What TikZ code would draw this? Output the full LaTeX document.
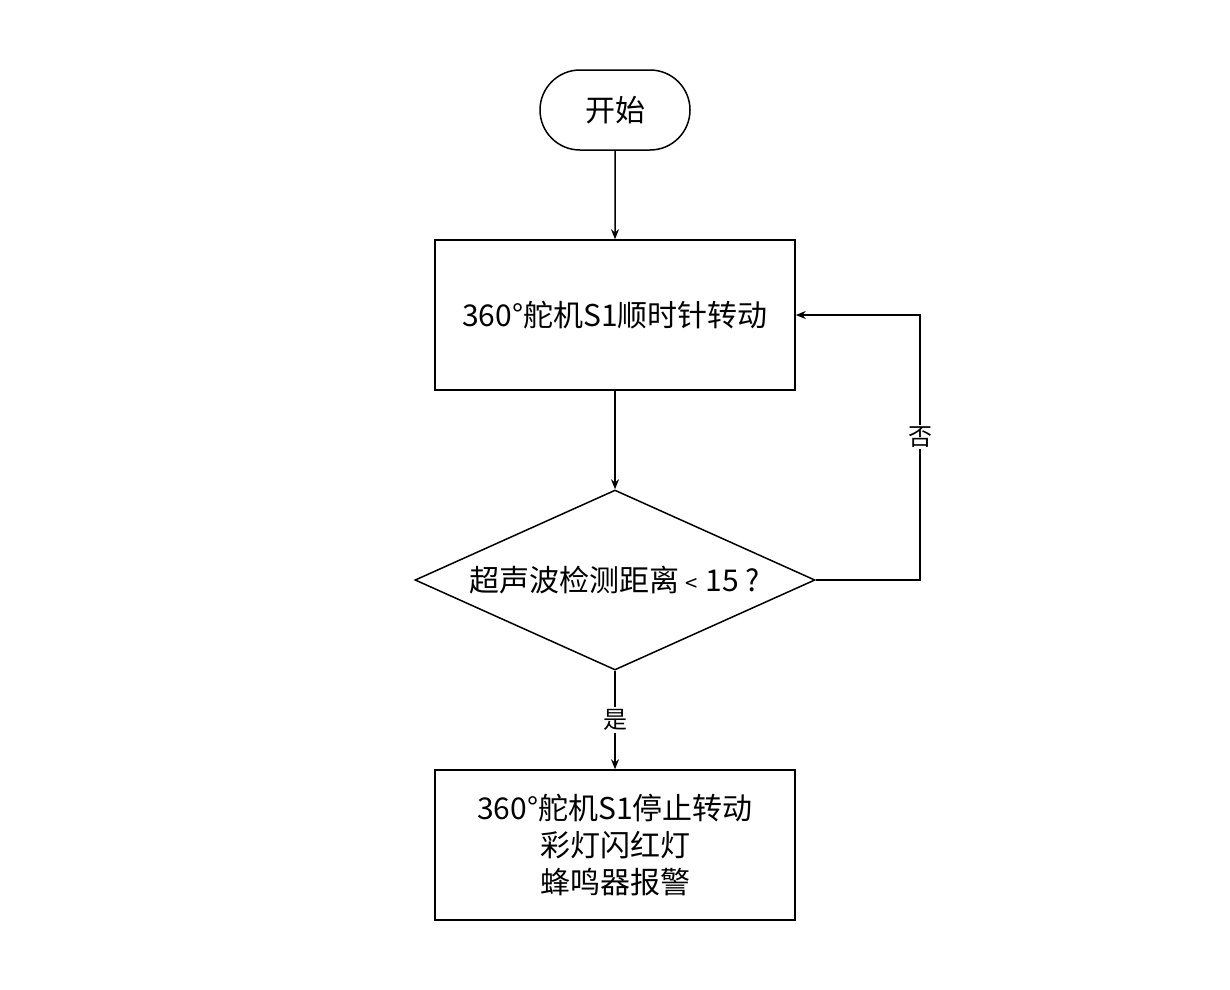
\documentclass[tikz,border=0pt]{standalone}
\usepackage{fontspec}
\setmainfont{Noto Sans CJK SC}
\usetikzlibrary{shapes.geometric,shapes.misc,arrows.meta}
\begin{document}
\begin{tikzpicture}[x=1pt,y=-1pt,
  every node/.style={font=\fontsize{30}{37}\selectfont},
  base/.style={draw=black,line width=1.5pt,inner sep=0pt},
  proc/.style={base,rectangle,minimum width=360pt,minimum height=150pt,align=center},
  term/.style={base,rounded rectangle,minimum width=150pt,minimum height=80pt},
  dec/.style={base,diamond,minimum width=400pt,minimum height=180pt},
  conn/.style={line width=1.5pt,-{Stealth[length=10pt,width=8pt]}},
  lab/.style={fill=white,inner sep=2pt,font=\fontsize{24}{28}\selectfont}]
\useasboundingbox (0,0) rectangle (1230,989);
\node[term] (start) at (615,110) {开始};
\node[proc] (p1) at (615,315) {360°舵机S1顺时针转动};
\node[dec] (d) at (615,580) {};
\node at (615,580) {超声波检测距离\hspace{6pt}{\fontsize{22}{26}\selectfont <}\hspace{8pt}15 ?};
\node[proc] (p2) at (615,845) {360°舵机S1停止转动\\彩灯闪红灯\\蜂鸣器报警};
\coordinate (c1) at (920,580);
\coordinate (c2) at (920,315);
\draw[conn] (start) -- (p1);
\draw[conn] (p1) -- (d);
\draw[conn] (d.south) -- node[lab,pos=0.5]{是} (p2);
\draw[conn] (d.east) -- (c1) -- node[lab,pos=0.54]{否} (c2) -- (p1.east);
\end{tikzpicture}
\end{document}
